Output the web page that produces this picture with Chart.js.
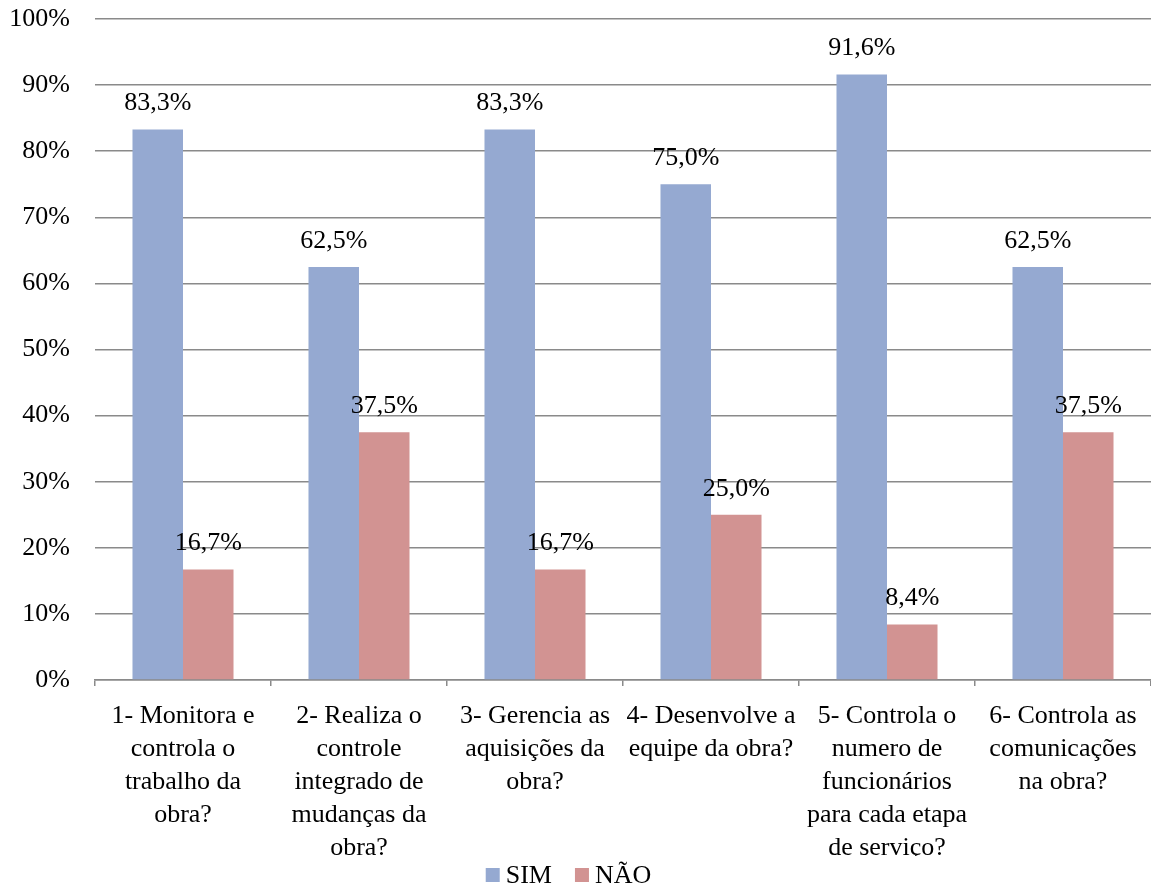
<!DOCTYPE html>
<html>
<head>
<meta charset="utf-8">
<script src="https://cdn.jsdelivr.net/npm/chart.js@4.4.0/dist/chart.umd.min.js"></script>
<style>
html,body{margin:0;padding:0;background:#fff;}
#wrap{width:1151px;height:886px;position:relative;}
</style>
</head>
<body>
<div id="wrap"><canvas id="c" width="1151" height="886"></canvas></div>
<script>
const categories = [
  ["1- Monitora e", "controla o", "trabalho da", "obra?"],
  ["2- Realiza o", "controle", "integrado de", "mudanças da", "obra?"],
  ["3- Gerencia as", "aquisições da", "obra?"],
  ["4- Desenvolve a", "equipe da obra?"],
  ["5- Controla o", "numero de", "funcionários", "para cada etapa", "de serviço?"],
  ["6- Controla as", "comunicações", "na obra?"]
];
const simValues = [83.3, 62.5, 83.3, 75.0, 91.6, 62.5];
const naoValues = [16.7, 37.5, 16.7, 25.0, 8.4, 37.5];
const seriesNames = ["SIM", "NÃO"];
const seriesColors = ['#95a9d1', '#d29392'];

const FONT = "'Liberation Serif', 'Times New Roman', serif";
const GRID = "#8a8a8a";

const labelPlugin = {
  id: 'valueLabels',
  afterDatasetsDraw(chart) {
    const ctx = chart.ctx;
    ctx.save();
    ctx.font = "26px " + FONT;
    ctx.fillStyle = "#000";
    ctx.textAlign = "center";
    ctx.textBaseline = "middle";
    chart.data.datasets.forEach((ds, di) => {
      const meta = chart.getDatasetMeta(di);
      meta.data.forEach((bar, i) => {
        const v = ds.data[i];
        const txt = v.toFixed(1).replace('.', ',') + '%';
        ctx.fillText(txt, bar.x, bar.y - 26);
      });
    });
    ctx.restore();
  }
};

const legendPlugin = {
  id: 'customLegend',
  afterDraw(chart) {
    const ctx = chart.ctx;
    ctx.save();
    ctx.font = "26px " + FONT;
    ctx.textBaseline = "middle";
    ctx.textAlign = "left";
    const box = 14, gapBoxText = 6, gapItems = 23;
    const items = chart.data.datasets.map(ds => ({ label: ds.label, color: ds.backgroundColor, w: ctx.measureText(ds.label).width }));
    let total = 0;
    items.forEach((it, i) => { total += box + gapBoxText + it.w + (i < items.length - 1 ? gapItems : 0); });
    let x = (chart.width - total) / 2 - 7;
    const y = 875;
    items.forEach(it => {
      ctx.fillStyle = it.color;
      ctx.fillRect(x, y - box / 2, box, box);
      x += box + gapBoxText;
      ctx.fillStyle = '#000';
      ctx.fillText(it.label, x, y + 1);
      x += it.w + gapItems;
    });
    ctx.restore();
  }
};

new Chart(document.getElementById('c'), {
  type: 'bar',
  data: {
    labels: categories,
    datasets: [
      { label: seriesNames[0], data: simValues, backgroundColor: seriesColors[0], borderWidth: 0,
        categoryPercentage: 0.574, barPercentage: 1.0 },
      { label: seriesNames[1], data: naoValues, backgroundColor: seriesColors[1], borderWidth: 0,
        categoryPercentage: 0.574, barPercentage: 1.0 }
    ]
  },
  options: {
    responsive: false,
    animation: false,
    devicePixelRatio: 1,
    layout: { padding: { top: 0, right: 0, left: 0, bottom: 30 } },
    plugins: {
      legend: { display: false },
      tooltip: { enabled: false }
    },
    scales: {
      y: {
        min: 0, max: 100,
        ticks: {
          stepSize: 10,
          callback: v => v + '%',
          font: { family: FONT, size: 26 },
          color: '#000',
          padding: 25
        },
        grid: { color: GRID, lineWidth: 1.5, drawTicks: false },
        border: { display: false },
        afterFit(scale) { scale.width = 95; scale.paddingTop = 19; scale.paddingBottom = 0; }
      },
      x: {
        ticks: {
          font: { family: FONT, size: 26, lineHeight: 1.27 },
          color: '#000',
          maxRotation: 0, autoSkip: false,
          padding: 14
        },
        grid: { display: true, drawOnChartArea: false, drawTicks: true, tickLength: 6, color: GRID, lineWidth: 1.5, offset: true },
        border: { display: true, color: GRID, width: 1.5 },
        afterFit(scale) { scale.height = 176; scale.paddingLeft = 0; scale.paddingRight = 0; }
      }
    }
  },
  plugins: [labelPlugin, legendPlugin]
});
</script>
</body>
</html>
